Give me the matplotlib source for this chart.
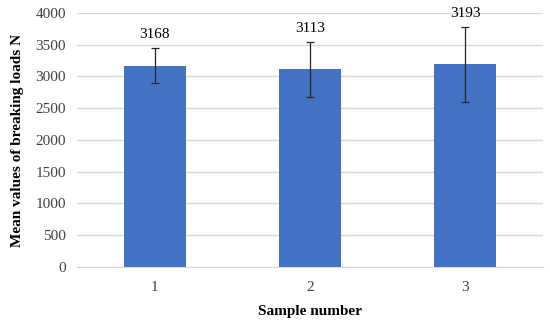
import matplotlib.pyplot as plt
import numpy as np

plt.rcParams['font.family'] = ['Liberation Serif', 'DejaVu Serif']

# data
samples = ['1', '2', '3']
means = [3168, 3113, 3193]
errors = [275, 433, 590]

fig = plt.figure(figsize=(5.5, 3.24), dpi=100)
ax = fig.add_axes([0.14, 0.176, 0.847, 0.784])

x = np.arange(len(samples))
ax.bar(x, means, width=0.4, color='#4472C4', zorder=3)
ax.errorbar(x, means, yerr=errors, fmt='none', ecolor='#262626',
            elinewidth=0.9, capsize=3, capthick=0.9, zorder=4)

for xi, m, e in zip(x, means, errors):
    ax.annotate(str(m), (xi, m + e), xytext=(0, 5), textcoords='offset points',
                ha='center', va='bottom', fontsize=11)

ax.set_xlim(-0.5, 2.5)
ax.set_ylim(0, 4000)
ax.set_yticks(np.arange(0, 4001, 500))
ax.set_xticks(x)
ax.set_xticklabels(samples)
ax.grid(axis='y', color='#d9d9d9', linewidth=1, zorder=0)
for s in ['top', 'right', 'left']:
    ax.spines[s].set_visible(False)
ax.spines['bottom'].set_color('#d9d9d9')
ax.tick_params(axis='both', length=0, labelsize=11, colors='#404040')
ax.tick_params(axis='x', pad=10)
ax.tick_params(axis='y', pad=8)

ax.set_xlabel('Sample number', fontsize=11, fontweight='bold', labelpad=8)
ax.set_ylabel('Mean values of breaking loads N', fontsize=11, fontweight='bold', labelpad=8)

fig.savefig('out.png', dpi=100)
